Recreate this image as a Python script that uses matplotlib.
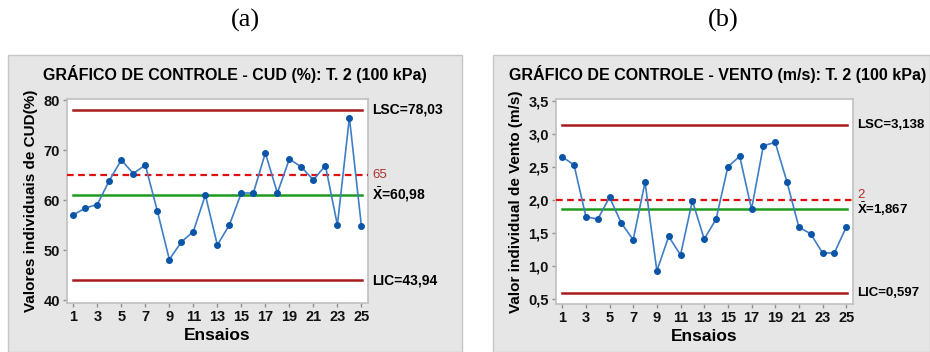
#Gráficos de controle (valores individuais) - CUD e Vento, T. 2 (100 kPa)
import matplotlib
matplotlib.use('Agg')
import matplotlib.pyplot as plt
from matplotlib.patches import Rectangle
from matplotlib.ticker import FuncFormatter

plt.rcParams['font.family'] = ['Liberation Sans', 'DejaVu Sans']
plt.rcParams['mathtext.fontset'] = 'custom'
plt.rcParams['mathtext.rm'] = 'Liberation Sans'
plt.rcParams['mathtext.bf'] = 'Liberation Sans:bold'

# dados
ensaios = list(range(1, 26))
cud = [57.0, 58.4, 59.1, 63.9, 68.0, 65.3, 67.0, 57.8, 48.1, 51.6,
       53.7, 61.0, 51.0, 55.0, 61.4, 61.4, 69.4, 61.4, 68.2, 66.6,
       64.0, 66.9, 55.0, 76.5, 54.8]
vento = [2.65, 2.53, 1.75, 1.71, 2.04, 1.65, 1.40, 2.27, 0.93, 1.45,
         1.17, 1.99, 1.41, 1.71, 2.50, 2.66, 1.86, 2.82, 2.87, 2.27,
         1.59, 1.49, 1.20, 1.20, 1.59]
cud_lim = {'lsc': 78.03, 'media': 60.98, 'lic': 43.94, 'ref': 65}
vento_lim = {'lsc': 3.138, 'media': 1.867, 'lic': 0.597, 'ref': 2}

VERMELHO_ESC = '#A81C1C'
VERDE = '#1E9A1E'
VERMELHO = '#E01010'
AZUL = '#3F7EC4'
AZUL_PTO = '#0A55A8'

fig = plt.figure(figsize=(9.3, 3.52), dpi=100)

# fundos cinza (estilo Minitab)
fig.patches.append(Rectangle((8/930, 0), 454/930, 1 - 55/352, transform=fig.transFigure,
                             facecolor='#E6E6E6', edgecolor='#C6C6C6', lw=1, zorder=-5))
fig.patches.append(Rectangle((493/930, 0), 437/930, 1 - 55/352, transform=fig.transFigure,
                             facecolor='#E6E6E6', edgecolor='#C6C6C6', lw=1, zorder=-5))

fig.text(245/930, 1 - 20/352, '(a)', family='Liberation Serif', fontsize=19, ha='center', va='center')
fig.text(723/930, 1 - 20/352, '(b)', family='Liberation Serif', fontsize=19, ha='center', va='center')


def grafico(ax, valores, lim, titulo, tx, ylabel, ylim, yticks, fmt, ref_txt, ref_dy, xlbl, fs_lbl):
    ax.set_facecolor('white')
    ax.plot(ensaios, valores, color=AZUL, lw=1.2, marker='o', markersize=4,
            markerfacecolor=AZUL_PTO, markeredgecolor=AZUL_PTO, zorder=4)
    ax.axhline(lim['lsc'], xmin=0.02, xmax=0.98, color=VERMELHO_ESC, lw=1.8)
    ax.axhline(lim['lic'], xmin=0.02, xmax=0.98, color=VERMELHO_ESC, lw=1.8)
    ax.axhline(lim['media'], xmin=0.02, xmax=0.98, color=VERDE, lw=1.8)
    ax.axhline(lim['ref'], color=VERMELHO, lw=1.6, ls=(0, (3, 2)), zorder=3)

    ax.set_xlim(0.45, 25.55)
    ax.set_ylim(*ylim)
    ax.set_xticks(range(1, 26, 2))
    ax.set_yticks(yticks)
    ax.yaxis.set_major_formatter(FuncFormatter(fmt))
    for s in ax.spines.values():
        s.set_color('#C0C0C0')
        s.set_linewidth(1.2)
    ax.tick_params(colors='#909090', labelcolor='#111111', length=3, width=1, labelsize=10.5, pad=2)
    for t in ax.get_xticklabels() + ax.get_yticklabels():
        t.set_fontweight('bold')

    ax.set_title(titulo, fontsize=11.5, fontweight='bold', pad=14, x=tx)
    ax.set_ylabel(ylabel, fontsize=11, fontweight='bold', labelpad=4)
    ax.set_xlabel('Ensaios', fontsize=12.5, fontweight='bold', labelpad=3)

    tr = ax.get_yaxis_transform()
    ax.text(xlbl, lim['lsc'], 'LSC=' + fmt(lim['lsc'], 0, True), transform=tr, fontsize=fs_lbl,
            fontweight='bold', va='center', ha='left')
    ax.text(xlbl, lim['lic'], 'LIC=' + fmt(lim['lic'], 0, True), transform=tr, fontsize=fs_lbl,
            fontweight='bold', va='center', ha='left')
    ax.text(xlbl, lim['media'], r'$\bar{\mathbf{X}}$=' + fmt(lim['media'], 0, True), transform=tr,
            fontsize=fs_lbl, fontweight='bold', va='center', ha='left')
    ax.text(xlbl, lim['ref'] + ref_dy, ref_txt, transform=tr, fontsize=9.5, color='#B03030',
            va='center', ha='left')


def fmt_cud(v, pos, full=False):
    return f'{v:.2f}'.replace('.', ',') if full else f'{v:.0f}'


def fmt_vento(v, pos, full=False):
    return f'{v:.3f}'.replace('.', ',') if full else f'{v:.1f}'.replace('.', ',')


ax1 = fig.add_axes([66.7/930, 1 - 303/352, 301.3/930, 204/352])
grafico(ax1, cud, cud_lim, 'GRÁFICO DE CONTROLE - CUD (%): T. 2 (100 kPa)', 0.557,
        'Valores individuais de CUD(%)', (39.4, 80.2), [40, 50, 60, 70, 80],
        fmt_cud, '65', 0, 1.013, 10)

ax2 = fig.add_axes([555.7/930, 1 - 304/352, 297/930, 204.7/352])
grafico(ax2, vento, vento_lim, 'GRÁFICO DE CONTROLE - VENTO (m/s): T. 2 (100 kPa)', 0.546,
        'Valor individual de Vento (m/s)', (0.43, 3.52), [0.5, 1.0, 1.5, 2.0, 2.5, 3.0, 3.5],
        fmt_vento, '2', 0.075, 1.014, 9.5)

fig.savefig('out.png', dpi=100, facecolor='white')
